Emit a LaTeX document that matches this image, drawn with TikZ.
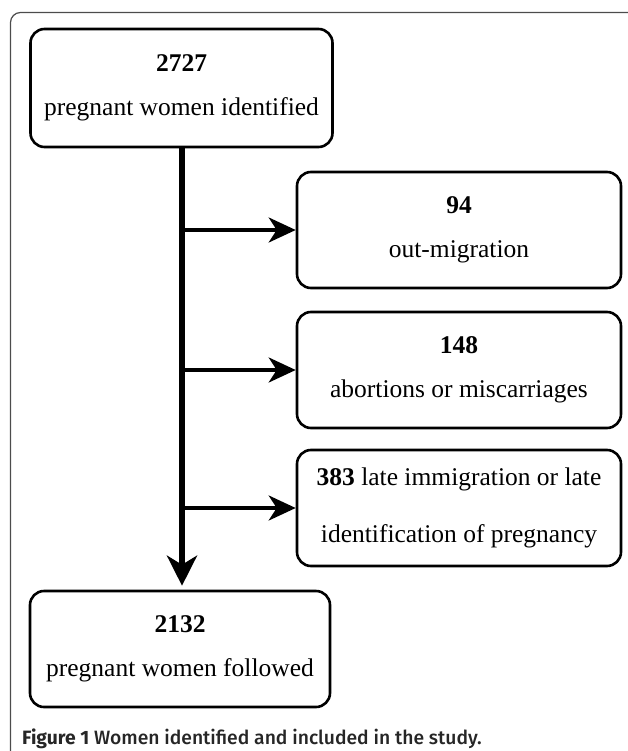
\documentclass[tikz,border=0pt]{standalone}
\usepackage{fontspec}
\setmainfont{Liberation Serif}
\newfontfamily\capfont{Fira Sans}[UprightFont={* Medium},BoldFont={* Bold}]
\usetikzlibrary{positioning,arrows.meta}
\tikzset{stage/.style={draw,rounded corners=14pt,line width=2.6pt,align=center,
            inner sep=0pt,font=\fontsize{25.5}{44}\selectfont},
         side/.style={stage,minimum width=324pt,minimum height=116pt},
         trunk/.style={line width=6pt,-{Stealth[length=30pt,width=30pt,inset=9pt]}},
         branch/.style={line width=3.4pt,-{Stealth[length=27pt,width=25pt,inset=8pt]}}}

\begin{document}
\begin{tikzpicture}[x=1pt,y=-1pt]
\useasboundingbox (0,0) rectangle (628,751);
\draw[black!70,line width=1.2pt,rounded corners=10pt] (630,12.5) -- (10.5,12.5) -- (10.5,753);
\node[stage,minimum width=302pt,minimum height=118pt] at (181.5,88)(top){\textbf{2727}\\pregnant women identified};
\node[side] at (459,230)(out){\textbf{94}\\out-migration};
\node[side] at (459,370)(abort){\textbf{148}\\abortions or miscarriages};
\node[side] at (459,508)(late){\textbf{383} late immigration or late\\[13pt]identification of pregnancy};
\node[stage,minimum width=300pt,minimum height=116pt] at (180,649)(follow){\textbf{2132}\\pregnant women followed};
\node[anchor=base west,inner sep=0pt,text=black!85,font=\capfont\fontsize{19.3}{21}\selectfont] at (22,744)(cap){\textbf{Figure 1} Women identified and included in the study.};
\draw[trunk, shorten >=4pt] (top.south -| 182,0) -- (follow.north -| 182,0);
\draw[branch] (top.south -| 182,0) |- (out.west);
\draw[branch] (top.south -| 182,0) |- (abort.west);
\draw[branch] (top.south -| 182,0) |- (late.west);
\end{tikzpicture}
\end{document}
